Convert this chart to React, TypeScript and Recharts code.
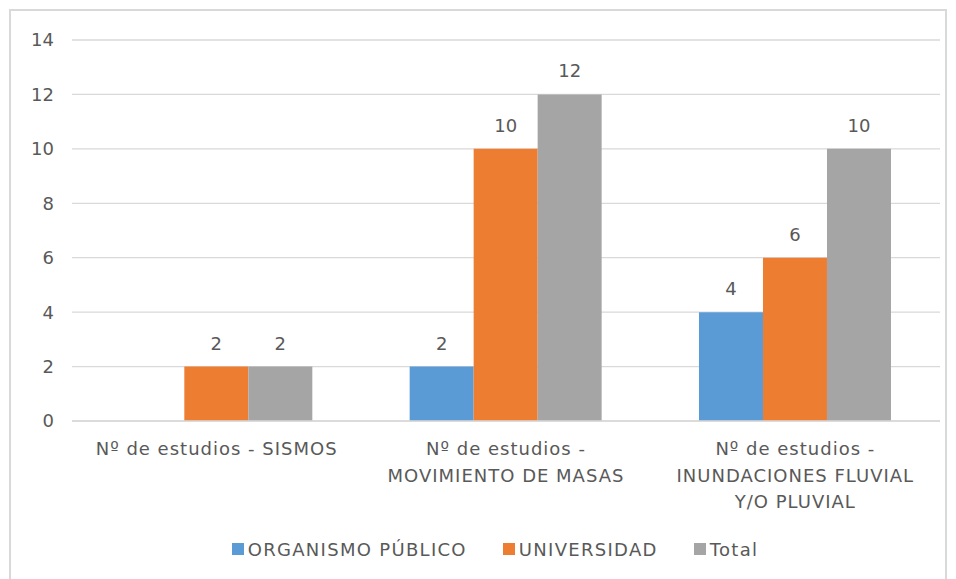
import React from 'react';
import { BarChart, Bar, XAxis, YAxis, CartesianGrid, Legend, LabelList } from 'recharts';

const categories = [
    'Nº de estudios - SISMOS',
    'Nº de estudios -\nMOVIMIENTO DE MASAS',
    'Nº de estudios -\nINUNDACIONES FLUVIAL\nY/O PLUVIAL',
];
const organismoPublico = [0, 2, 4];
const universidad = [2, 10, 6];
const total = [2, 12, 10];
const yTicks = [0, 2, 4, 6, 8, 10, 12, 14];

const seriesNames = ['ORGANISMO PÚBLICO', 'UNIVERSIDAD', 'Total'];
const colors = ['#5b9bd5', '#ed7d31', '#a5a5a5'];

const FONT = '"DejaVu Sans", sans-serif';
const TEXT = '#595959';

const chartData = categories.map((name, i) => ({
    name,
    org: organismoPublico[i] || null,
    uni: universidad[i],
    total: total[i],
}));

const CategoryTick = (props: any) => {
    const { x, y, payload } = props;
    const lines = String(payload.value).split('\n');
    return (
        <text x={x} y={y} textAnchor="middle" fill={TEXT} fontSize={18} letterSpacing={1} fontFamily={FONT}>
            {lines.map((line: string, i: number) => (
                <tspan key={i} x={x} dy={i === 0 ? 26 : 26.5}>{line}</tspan>
            ))}
        </text>
    );
};

const LegendContent = () => (
    <div style={{ display: 'flex', justifyContent: 'center', alignItems: 'center', height: 40, paddingLeft: 50, fontFamily: FONT, fontSize: 18, letterSpacing: 1.3, color: TEXT }}>
        {seriesNames.map((n, i) => (
            <div key={n} style={{ display: 'flex', alignItems: 'center', marginRight: i < 2 ? 36 : 0 }}>
                <span style={{ width: 12, height: 12, background: colors[i], display: 'inline-block', marginRight: 4 }} />
                <span>{n}</span>
            </div>
        ))}
    </div>
);

const App: React.FC = () => {
    return (
        <div style={{ position: 'absolute', left: 0, top: 0, width: 956, height: 579, background: '#fff', overflow: 'hidden' }}>
            <div style={{ position: 'absolute', left: 9, top: 9, width: 938, height: 600, border: '2px solid #d9d9d9', boxSizing: 'border-box' }} />
            <BarChart
                width={956}
                height={579}
                data={chartData}
                margin={{ top: 40, right: 16, left: 0, bottom: 10 }}
                barCategoryGap="16.7%"
                barGap={0}
                style={{ position: 'absolute', left: 0, top: 0 }}
            >
                <CartesianGrid vertical={false} stroke="#d9d9d9" strokeWidth={1.3} />
                <XAxis
                    dataKey="name"
                    axisLine={{ stroke: '#d9d9d9', strokeWidth: 1.3 }}
                    tickLine={false}
                    height={108}
                    interval={0}
                    tick={<CategoryTick />}
                />
                <YAxis
                    width={72}
                    domain={[0, 14]}
                    ticks={yTicks}
                    axisLine={false}
                    tickLine={false}
                    tickMargin={12}
                    tick={{ fill: TEXT, fontSize: 18, fontFamily: FONT }}
                />
                <Legend verticalAlign="bottom" content={<LegendContent />} />
                {(['org', 'uni', 'total'] as const).map((key, i) => (
                    <Bar key={key} dataKey={key} name={seriesNames[i]} fill={colors[i]} isAnimationActive={false}>
                        <LabelList dataKey={key} position="top" offset={17} fill={TEXT} fontSize={18} fontFamily={FONT} />
                    </Bar>
                ))}
            </BarChart>
        </div>
    );
};

export default App;
